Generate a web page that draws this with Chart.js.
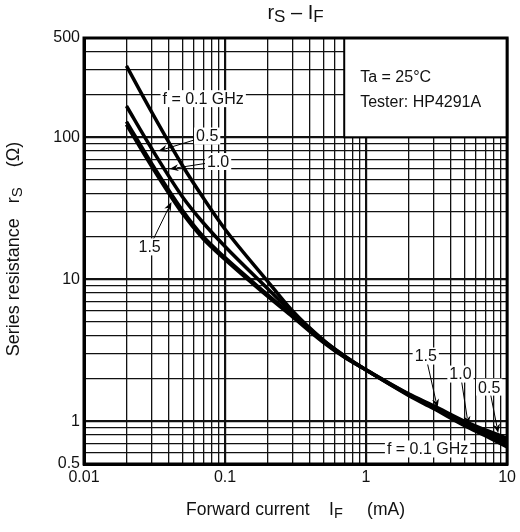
<!DOCTYPE html>
<html>
<head>
<meta charset="utf-8">
<script src="https://cdn.jsdelivr.net/npm/chart.js@4.4.0/dist/chart.umd.min.js"></script>
<style>
  html, body { margin: 0; padding: 0; background: #fff; }
  #wrap { width: 520px; height: 532px; }
</style>
</head>
<body>
<div id="wrap"><canvas id="chart" width="520" height="532"></canvas></div>
<script>
// forward current IF (mA) and series resistance rs (ohm) per frequency
const current = [0.02, 0.03, 0.05, 0.07, 0.1, 0.2, 0.3, 0.5, 0.7, 1, 2, 3, 5, 7, 10];
const rs01 = [318, 152, 63, 37.5, 22.5, 9.7, 6.0, 3.72, 2.9, 2.3, 1.52, 1.23, 0.93, 0.79, 0.66];
const rs05 = [166, 84, 38, 25, 17, 8.6, 5.8, 3.7, 2.88, 2.3, 1.54, 1.26, 0.96, 0.82, 0.70];
const rs10 = [129, 66, 30.5, 20, 14.2, 7.8, 5.55, 3.62, 2.85, 2.3, 1.55, 1.27, 0.98, 0.85, 0.73];
const rs15 = [123, 63, 29, 19.3, 13.8, 7.6, 5.45, 3.58, 2.83, 2.3, 1.56, 1.29, 1.0, 0.87, 0.76];

const xLabels = [0.01, 0.1, 1, 10];
const yLabels = [0.5, 1, 10, 100, 500];
const xDecades = [0.01, 0.1, 1];
const yDecades = [0.1, 1, 10, 100];
const mantissas = [1, 2, 3, 4, 5, 6, 7, 8, 9];

// callouts, placed in data coordinates
const notes = [
  { text: "f = 0.1 GHz", x: 0.070, y: 187 },
  { text: "0.5", x: 0.0747, y: 102, ax: 0.0337, ay: 80 },
  { text: "1.0", x: 0.0893, y: 67.5, ax: 0.0404, ay: 59.8 },
  { text: "1.5", x: 0.0292, y: 16.9, ax: 0.0417, ay: 35 },
  { text: "1.5", x: 2.65, y: 2.88, ax: 3.21, ay: 1.24 },
  { text: "1.0", x: 4.67, y: 2.15, ax: 5.31, ay: 0.94 },
  { text: "0.5", x: 7.46, y: 1.74, ax: 8.65, ay: 0.826 },
  { text: "f = 0.1 GHz", x: 2.73, y: 0.638 }
];
const infoLines = ["Ta = 25°C", "Tester: HP4291A"];

const FONT = "'Liberation Sans', Arial, sans-serif";

function gridValues(decades, lo, hi) {
  const out = [];
  decades.forEach(d => mantissas.forEach(m => {
    const v = +(m * d).toPrecision(3);
    if (v >= lo && v <= hi) out.push(v);
  }));
  if (!out.includes(hi)) out.push(hi);
  return out;
}
const xGrid = gridValues(xDecades, 0.01, 10);
const yGrid = gridValues(yDecades, 0.5, 500);

const isDecade = v => Math.abs(Math.log10(v) - Math.round(Math.log10(v))) < 1e-6;

// text runs with subscripts: [text, isSub]
function drawSub(ctx, parts, x, y, size) {
  let cx = x;
  parts.forEach(([t, sub]) => {
    ctx.font = `${sub ? size - 3 : size}px ${FONT}`;
    ctx.fillText(t, cx, sub ? y + 4 : y);
    cx += ctx.measureText(t).width;
  });
}
function widthSub(ctx, parts, size) {
  let w = 0;
  parts.forEach(([t, sub]) => {
    ctx.font = `${sub ? size - 3 : size}px ${FONT}`;
    w += ctx.measureText(t).width;
  });
  return w;
}

function arrow(ctx, x1, y1, x2, y2) {
  const a = Math.atan2(y2 - y1, x2 - x1);
  const len = 9, half = 3.5;
  ctx.beginPath();
  ctx.moveTo(x1, y1);
  ctx.lineTo(x2 - Math.cos(a) * len * 0.8, y2 - Math.sin(a) * len * 0.8);
  ctx.lineWidth = 1;
  ctx.stroke();
  ctx.beginPath();
  ctx.moveTo(x2, y2);
  ctx.lineTo(x2 - Math.cos(a) * len - Math.sin(a) * half, y2 - Math.sin(a) * len + Math.cos(a) * half);
  ctx.lineTo(x2 - Math.cos(a) * len * 0.7, y2 - Math.sin(a) * len * 0.7);
  ctx.lineTo(x2 - Math.cos(a) * len + Math.sin(a) * half, y2 - Math.sin(a) * len - Math.cos(a) * half);
  ctx.closePath();
  ctx.fill();
}

const decor = {
  id: "decor",
  beforeDatasetsDraw(chart) {
    const { ctx, scales: { x, y } } = chart;
    ctx.save();
    // info box
    const bx = x.getPixelForValue(0.7), by = y.getPixelForValue(500);
    const bw = x.getPixelForValue(10) - bx, bh = y.getPixelForValue(100) - by;
    ctx.fillStyle = "#fff";
    ctx.fillRect(bx, by, bw, bh);
    ctx.strokeStyle = "#000";
    ctx.lineWidth = 2;
    ctx.strokeRect(bx, by, bw, bh);
    ctx.fillStyle = "#111";
    ctx.font = `16px ${FONT}`;
    ctx.textAlign = "left";
    ctx.textBaseline = "middle";
    ctx.fillText(infoLines[0], bx + 16, by + 40);
    ctx.fillText(infoLines[1], bx + 16, by + 65);
    // callout boxes
    ctx.textAlign = "center";
    notes.forEach(n => {
      const px = x.getPixelForValue(n.x), py = y.getPixelForValue(n.y);
      const w = ctx.measureText(n.text).width + 4, h = 17;
      ctx.fillStyle = "#fff";
      ctx.fillRect(px - w / 2, py - h / 2, w, h);
      ctx.fillStyle = "#111";
      ctx.fillText(n.text, px, py + 1);
    });
    ctx.restore();
  },
  afterDatasetsDraw(chart) {
    const { ctx, scales: { x, y }, chartArea: ca } = chart;
    ctx.save();
    ctx.font = `16px ${FONT}`;
    ctx.strokeStyle = "#000";
    ctx.fillStyle = "#000";
    notes.forEach(n => {
      if (n.ax === undefined) return;
      const px = x.getPixelForValue(n.x), py = y.getPixelForValue(n.y);
      const tx = x.getPixelForValue(n.ax), ty = y.getPixelForValue(n.ay);
      const hw = (ctx.measureText(n.text).width + 4) / 2, hh = 8.5;
      const dx = tx - px, dy = ty - py;
      const t = Math.min(hw / Math.abs(dx || 1e-6), hh / Math.abs(dy || 1e-6));
      arrow(ctx, px + dx * t, py + dy * t, tx, ty);
    });
    // frame
    ctx.lineWidth = 3;
    ctx.strokeRect(ca.left, ca.top, ca.right - ca.left, ca.bottom - ca.top);
    ctx.restore();
  },
  afterDraw(chart) {
    const { ctx, chartArea: ca } = chart;
    const cx = (ca.left + ca.right) / 2;
    ctx.save();
    ctx.fillStyle = "#111";
    ctx.textAlign = "left";
    ctx.textBaseline = "middle";
    // title
    const title = [["r", false], ["S", true], [" \u2013 I", false], ["F", true]];
    drawSub(ctx, title, cx - widthSub(ctx, title, 20) / 2, 13, 20);
    // x axis title
    const xt = [["Forward current    I", false], ["F", true], ["     (mA)", false]];
    drawSub(ctx, xt, cx - widthSub(ctx, xt, 17.5) / 2, 510, 17.5);
    // y axis title
    const yt = [["Series resistance   r", false], ["S", true], ["    (\u03a9)", false]];
    ctx.translate(14, 249);
    ctx.rotate(-Math.PI / 2);
    drawSub(ctx, yt, -widthSub(ctx, yt, 18) / 2, 0, 18);
    ctx.restore();
  }
};

const lineStyle = {
  borderColor: "#000",
  borderWidth: 3.5,
  pointRadius: 0,
  fill: false,
  cubicInterpolationMode: "monotone"
};

const gridWidth = c => (c.tick && isDecade(c.tick.value) ? 2.2 : 1.3);

new Chart(document.getElementById("chart"), {
  type: "line",
  data: {
    datasets: [
      { label: "0.1 GHz", data: current.map((v, i) => ({ x: v, y: rs01[i] })), ...lineStyle },
      { label: "0.5 GHz", data: current.map((v, i) => ({ x: v, y: rs05[i] })), ...lineStyle },
      { label: "1.0 GHz", data: current.map((v, i) => ({ x: v, y: rs10[i] })), ...lineStyle },
      { label: "1.5 GHz", data: current.map((v, i) => ({ x: v, y: rs15[i] })), ...lineStyle }
    ]
  },
  options: {
    responsive: false,
    animation: false,
    devicePixelRatio: 1,
    layout: { padding: { top: 38, right: 10, left: 0, bottom: 0 } },
    plugins: { legend: { display: false }, tooltip: { enabled: false }, title: { display: false } },
    scales: {
      x: {
        type: "logarithmic",
        min: 0.01,
        max: 10,
        afterBuildTicks: s => { s.ticks = xGrid.map(v => ({ value: v })); },
        afterFit: s => { s.height = 68; },
        ticks: {
          autoSkip: false,
          maxRotation: 0,
          padding: 4,
          color: "#111",
          font: { family: FONT, size: 16 },
          callback: v => (xLabels.includes(+v.toPrecision(3)) ? String(+v.toPrecision(3)) : "")
        },
        grid: { color: "#111", lineWidth: gridWidth, drawTicks: false },
        border: { color: "#000", width: 3 }
      },
      y: {
        type: "logarithmic",
        min: 0.5,
        max: 500,
        afterBuildTicks: s => { s.ticks = yGrid.map(v => ({ value: v })); },
        afterFit: s => { s.width = 84; },
        ticks: {
          autoSkip: false,
          padding: 4,
          color: "#111",
          font: { family: FONT, size: 16 },
          callback: v => (yLabels.includes(+v.toPrecision(3)) ? String(+v.toPrecision(3)) : "")
        },
        grid: { color: "#111", lineWidth: gridWidth, drawTicks: false },
        border: { color: "#000", width: 3 }
      }
    }
  },
  plugins: [decor]
});
</script>
</body>
</html>
